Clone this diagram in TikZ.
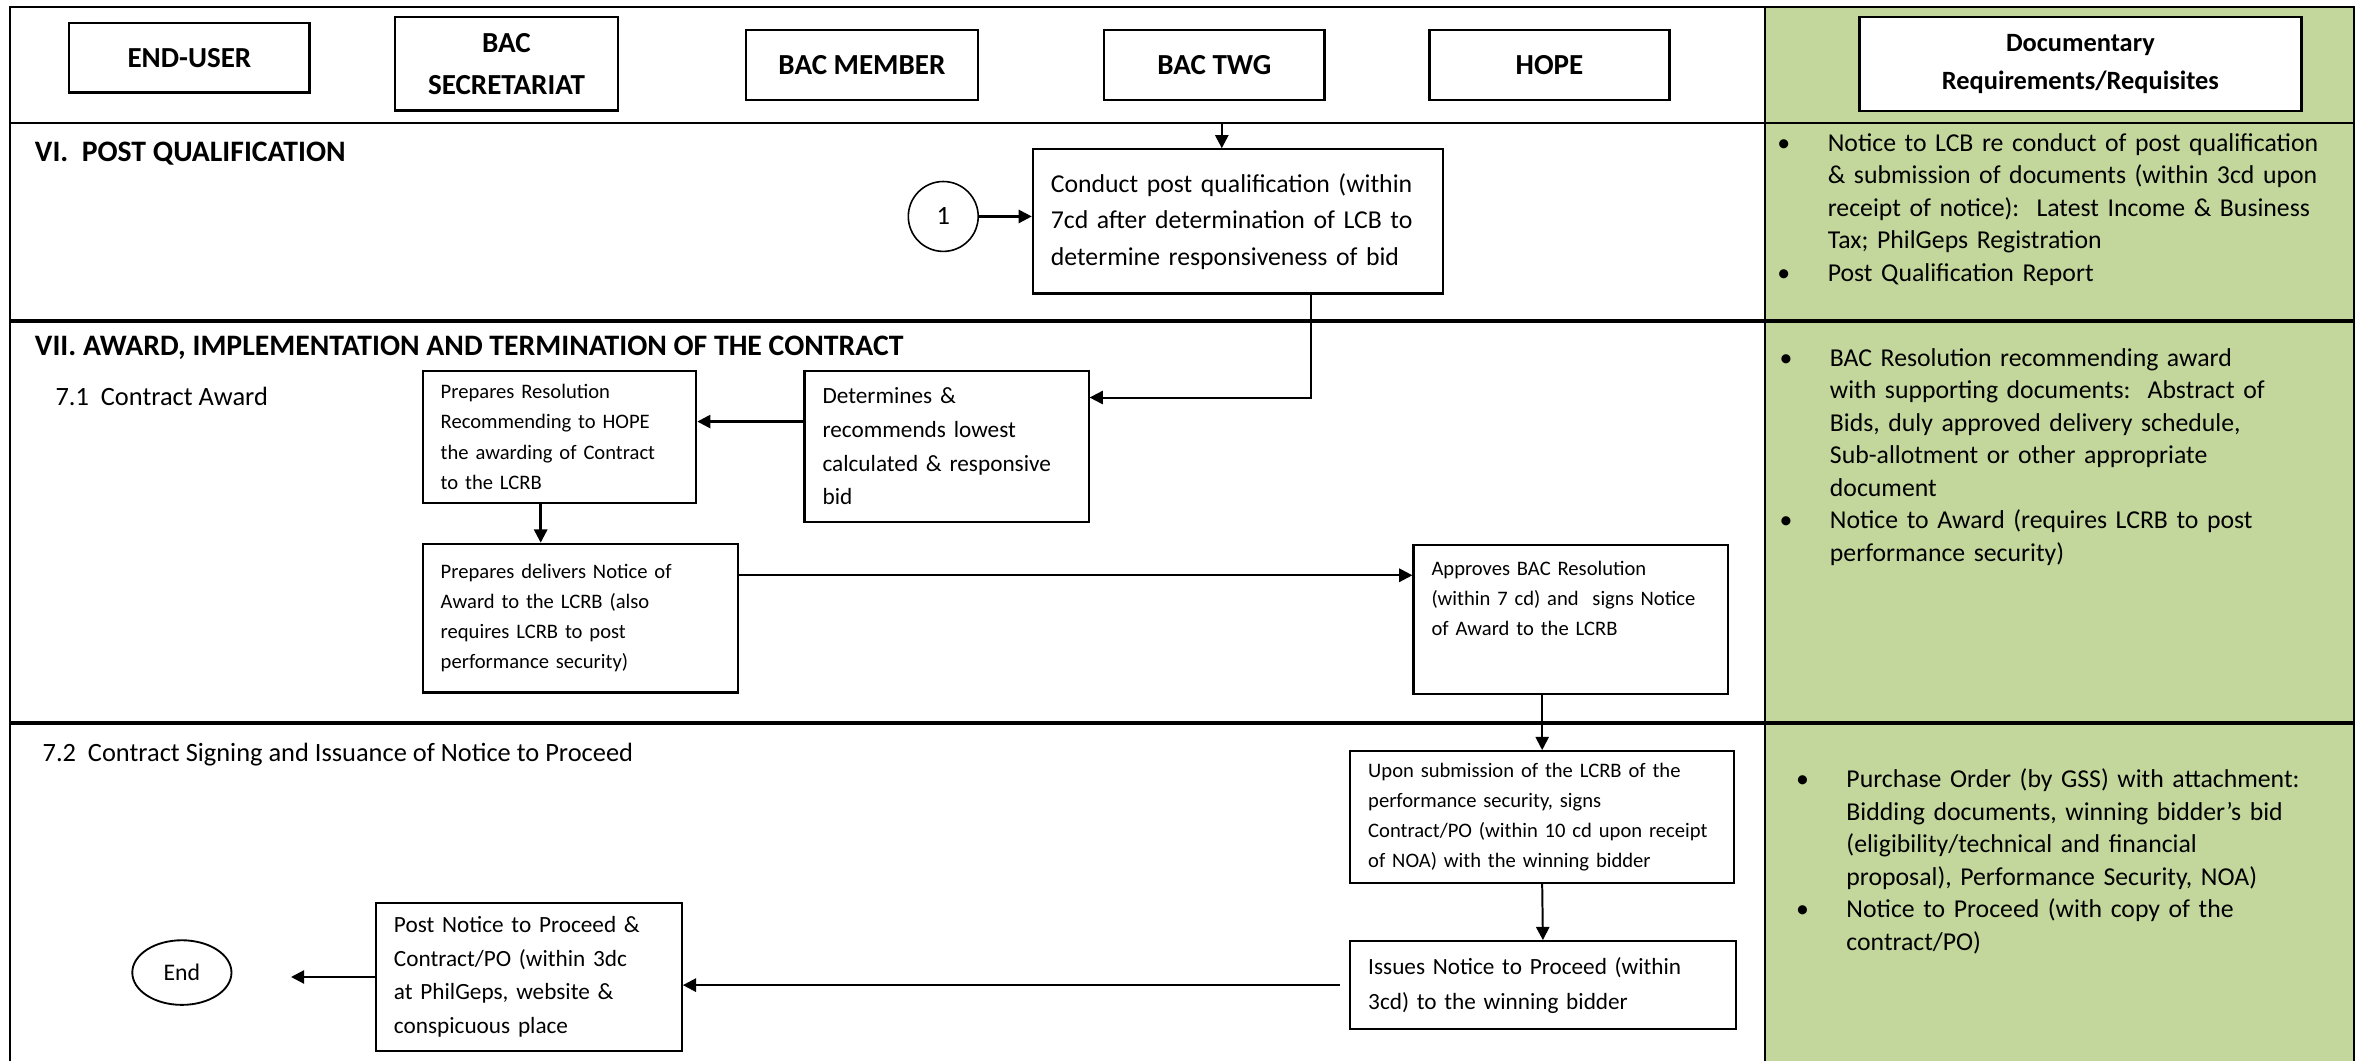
\documentclass[tikz,border=0pt]{standalone}
\usepackage{fontspec}
\setmainfont{Carlito}
\usetikzlibrary{arrows.meta,shapes.geometric}
\definecolor{reqgreen}{HTML}{C3D69B}
\hyphenpenalty=10000
\exhyphenpenalty=10000
\newcommand{\fsz}[2]{\fontsize{#1}{#2}\selectfont}
\newcommand{\bul}{\leavevmode\llap{\textbullet\hspace{0.5cm}}}

\begin{document}
\begin{tikzpicture}[
  x=0.02cm, y=-0.02cm,
  >={Triangle[length=5pt,width=5pt]},
  lanehead/.style={rectangle, draw, line width=0.9pt, fill=white, align=center, minimum height=0.93cm, font=\bfseries\fsz{11}{15.8}},
  block/.style={rectangle, draw, line width=0.8pt, fill=white, anchor=north west, align=left, inner xsep=0.24cm, inner ysep=0pt},
  sectitle/.style={anchor=base west, inner sep=0pt, font=\bfseries\fsz{11.25}{13}},
  subtitle/.style={anchor=base west, inner sep=0pt, font=\fsz{10}{12}},
  reqtext/.style={anchor=base west, inner sep=0pt, align=left, text width=6.9cm, font=\fsz{9.75}{12.3}},
  lane/.style={line width=1.2pt},
  flow/.style={->, line width=0.9pt},
  font=\fsz{10}{12}
]
\useasboundingbox (0,0) rectangle (1568,706);
\fill[reqgreen] (1174,4.5) rectangle (1566,706);
\draw[line width=0.9pt] (6.7,706) -- (6.7,4.5) -- (1566,4.5) -- (1566,706);
\draw[line width=0.9pt] (1174,4.5) -- (1174,706);
\draw[line width=0.8pt] (6.7,82) -- (1566,82);
\draw[lane] (6.7,213.5) -- (1566,213.5);
\draw[lane] (6.7,481) -- (1566,481);

% swimlane heads
\node[lanehead, minimum width=3.2cm] (enduser) at (126,38.4) {END-USER};
\node[lanehead, minimum width=2.96cm, minimum height=1.24cm, right of=enduser, node distance=4.22cm, yshift=-0.08cm] (bacsec) {BAC\\SECRETARIAT};
\node[lanehead, minimum width=3.09cm, right of=bacsec, node distance=4.73cm, yshift=-0.02cm] (bacmem) {BAC MEMBER};
\node[lanehead, minimum width=2.93cm, right of=bacmem, node distance=4.69cm] (bactwg) {BAC TWG};
\node[lanehead, minimum width=3.19cm, right of=bactwg, node distance=4.46cm] (hope) {HOPE};
\node[lanehead, minimum width=5.88cm, minimum height=1.25cm, font=\bfseries\fsz{10}{14.6}] (docreq) at (1384,42.7) {Documentary\\Requirements/Requisites};

% section titles
\node[sectitle] (secvi) at (22.9,107.2) {VI.\ \ POST QUALIFICATION};
\node[sectitle] (secvii) at (22.9,236.8) {VII. AWARD, IMPLEMENTATION AND TERMINATION OF THE CONTRACT};
\node[subtitle] (subaward) at (36.6,270) {7.1\ \ Contract Award};
\node[subtitle] (subsign) at (28,506.5) {7.2\ \ Contract Signing and Issuance of Notice to Proceed};

% VI post qualification
\node[circle, draw, line width=0.6pt, minimum size=0.93cm, inner sep=0pt] (one) at (627.5,144) {1};
\node[block, text width=4.98cm, minimum height=1.92cm, font=\fsz{9.75}{13.9}] (conduct) at (686.4,98.6) {Conduct post qualification (within\\7cd after determination of LCB to\\determine responsiveness of bid};

% 7.1 contract award
\node[block, text width=3.16cm, minimum height=1.76cm, font=\fsz{7.8}{11.4}] (prepres) at (280.5,246) {Prepares Resolution\\Recommending to HOPE\\the awarding of Contract\\to the LCRB};
\node[block, text width=3.30cm, minimum height=2.01cm, font=\fsz{8.8}{12.7}] (determ) at (534.5,246) {Determines \&\\recommends lowest\\calculated \& responsive\\bid};
\node[block, text width=3.72cm, minimum height=1.98cm, font=\fsz{7.8}{11.4}] (prepdel) at (280.5,361) {Prepares delivers Notice of\\Award to the LCRB (also\\requires LCRB to post\\performance security)};
\node[block, text width=3.70cm, minimum height=1.98cm, text depth=1.36cm, font=\fsz{7.8}{11.4}] (approves) at (939.6,362) {Approves BAC Resolution\\(within 7 cd) and\ \ signs Notice\\of Award to the LCRB};

% 7.2 contract signing
\node[block, text width=4.63cm, minimum height=1.75cm, font=\fsz{7.8}{11.3}] (upon) at (897.5,499) {Upon submission of the LCRB of the\\performance security, signs\\Contract/PO (within 10 cd upon receipt\\of NOA) with the winning bidder};
\node[block, text width=4.65cm, minimum height=1.17cm, font=\fsz{8.8}{13.3}] (issues) at (897.5,625.4) {Issues Notice to Proceed (within\\3cd) to the winning bidder};
\node[block, text width=3.59cm, minimum height=1.97cm, font=\fsz{8.8}{12.7}] (postntp) at (249.4,600) {Post Notice to Proceed \&\\Contract/PO (within 3dc\\at PhilGeps, website \&\\conspicuous place};
\node[ellipse, draw, line width=0.7pt, minimum width=1.32cm, minimum height=0.86cm, inner sep=0pt, font=\fsz{9}{11}] (endn) at (121,647) {End};

% requisites
\node[reqtext] (reqpost) at (1215.6,100.6) {\bul Notice to LCB re conduct of post qualification\\\& submission of documents (within 3cd upon\\receipt of notice):\ \ Latest Income \& Business\\Tax; PhilGeps Registration\\\bul Post Qualification Report};
\node[reqtext] (reqaward) at (1217,243.6) {\bul BAC Resolution recommending award\\with supporting documents:\ \ Abstract of\\Bids, duly approved delivery schedule,\\Sub-allotment or other appropriate\\document\\\bul Notice to Award (requires LCRB to post\\performance security)};
\node[reqtext, text width=6.6cm] (reqsign) at (1228,524) {\bul Purchase Order (by GSS) with attachment:\\Bidding documents, winning bidder’s bid\\(eligibility/technical and financial\\proposal), Performance Security, NOA)\\\bul Notice to Proceed (with copy of the\\contract/PO)};

% connectors
\coordinate (twgin) at (812.8,82);
\draw[flow] (twgin) -- (twgin |- conduct.north);
\draw[flow] (one) -- (one -| conduct.west);
\draw[->, line width=0.75pt] ([xshift=0.97cm]conduct.south) |- ([yshift=0.65cm]determ.east);
\draw[flow] ([yshift=0.33cm]determ.west) -- ([yshift=0.33cm]determ.west -| prepres.east);
\draw[flow] ([xshift=-0.25cm]prepres.south) -- ([xshift=-0.25cm]prepres.south |- prepdel.north);
\draw[flow] ([yshift=0.57cm]prepdel.east) -- ([yshift=0.57cm]prepdel.east -| approves.west);
\draw[->, line width=0.7pt] (upon.north |- approves.south) -- (upon.north);
\draw[->, line width=0.75pt] (upon.south) -- (issues.north);
\draw[flow, shorten <=0.12cm] (issues.west) -- (issues.west -| postntp.east);
\draw[flow, shorten >=0.78cm] (postntp.west) -- (postntp.west -| endn.east);
\end{tikzpicture}
\end{document}
